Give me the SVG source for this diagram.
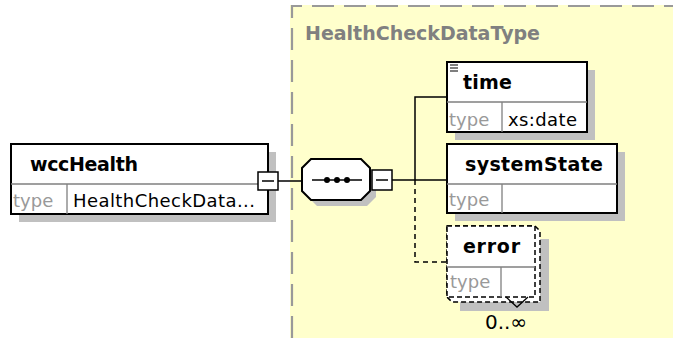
<svg xmlns="http://www.w3.org/2000/svg" width="673" height="338" viewBox="0 0 673 338">
<style>
.t{font-family:"DejaVu Sans",Verdana,sans-serif;font-size:19px;font-weight:bold;fill:#000}
.ty{font-family:"DejaVu Sans",Verdana,sans-serif;font-size:18px;fill:#999}
.v{font-family:"DejaVu Sans",Verdana,sans-serif;font-size:18px;fill:#000}
.box{fill:#fff;stroke:#000;stroke-width:2}
.dbox{fill:#fff;stroke:#000;stroke-width:1.5;stroke-dasharray:5,3}
.sh{fill:#c0c0c0}
.dv{stroke:#808080;stroke-width:1.3;fill:none}
.con{stroke:#000;stroke-width:1.5;fill:none}
.dash{stroke-dasharray:5,4}
.btn{fill:#fff;stroke:#000;stroke-width:1.5}
</style>
<rect x="0" y="0" width="673" height="338" fill="#fff"/>
<g id="HealthCheckDataType">
<rect x="290" y="5" width="383" height="333" fill="#ffffcc"/>
<path d="M292,338 V6 H673" fill="none" stroke="#999" stroke-width="2.2" stroke-dasharray="22,10"/>
<text x="305" y="40" class="t" style="fill:#808080" textLength="235">HealthCheckDataType</text>
</g>
<g id="connectors">
<path class="con" d="M278,181 H302"/>
<path class="con" d="M392,180 H447"/>
<path class="con" d="M415,180 V97 H447"/>
<path class="con dash" d="M415,180 V262 H447"/>
</g>
<g id="wccHealth">
<rect class="sh" x="19" y="152" width="257" height="70"/>
<rect class="box" x="11" y="144" width="257" height="70"/>
<path class="dv" d="M11,184 H268 M67,184 V214"/>
<text class="t" x="30" y="171" textLength="108">wccHealth</text>
<text class="ty" x="13" y="207">type</text>
<text class="v" x="73" y="207" textLength="182">HealthCheckData...</text>
<rect class="btn" x="258" y="172" width="20" height="18"/>
<path class="con" d="M262,181 H274"/>
</g>
<g id="sequence">
<polygon class="sh" points="317,165 367,165 376,174 376,197 367,206 317,206 308,197 308,174"/>
<polygon class="box" points="311,159 361,159 370,168 370,191 361,200 311,200 302,191 302,168"/>
<path class="con" d="M312,180 H362"/>
<circle cx="327" cy="180" r="3"/>
<circle cx="337" cy="180" r="3"/>
<circle cx="347" cy="180" r="3"/>
<rect class="btn" x="372" y="170" width="20" height="20"/>
<path class="con" d="M376,180 H388"/>
</g>
<g id="time">
<rect class="sh" x="455" y="70" width="140" height="70"/>
<rect class="box" x="447" y="62" width="140" height="70"/>
<path class="dv" d="M447,102 H587 M502,102 V132"/>
<path d="M450,65 H458 M450,68 H458 M450,71 H458" stroke="#000" stroke-width="1.2"/>
<text class="t" x="463" y="89" textLength="49">time</text>
<text class="ty" x="449" y="126">type</text>
<text class="v" x="508" y="126" textLength="69">xs:date</text>
</g>
<g id="systemState">
<rect class="sh" x="455" y="152" width="170" height="69"/>
<rect class="box" x="447" y="144" width="170" height="69"/>
<path class="dv" d="M447,184 H617 M502,184 V213"/>
<text class="t" x="465" y="171" textLength="138">systemState</text>
<text class="ty" x="449" y="206">type</text>
</g>
<g id="error">
<rect class="sh" x="460" y="239" width="89" height="72"/>
<path class="dbox" d="M447,226 H535 L540,231 V302 H452 L447,297 Z"/>
<rect class="dbox" x="447" y="226" width="88" height="71"/>
<path class="dv" d="M447,267 H535 M501,267 V297"/>
<text class="t" x="463" y="253" textLength="57">error</text>
<text class="ty" x="450" y="288">type</text>
<path d="M506,297 L517,307 L528,297" fill="none" stroke="#000" stroke-width="1.3"/>
<text class="v" x="485" y="329" style="font-size:20px" textLength="42">0..∞</text>
</g>
</svg>
